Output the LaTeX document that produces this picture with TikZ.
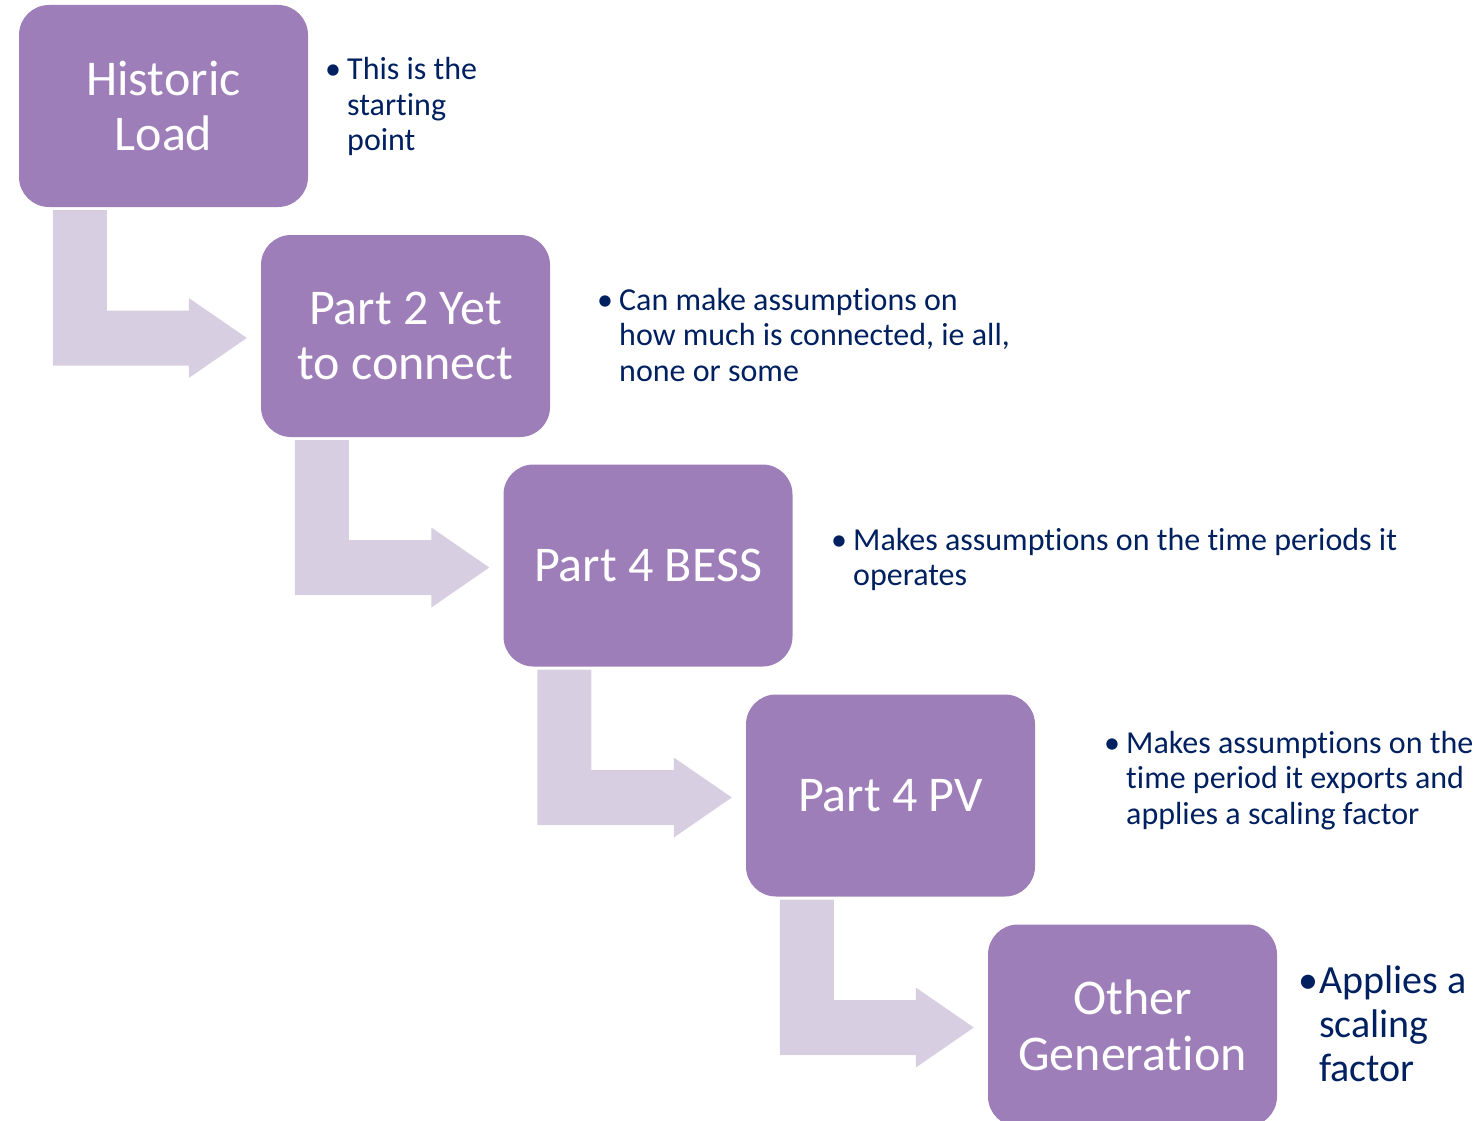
\documentclass[tikz,border=0pt]{standalone}
\usepackage{fontspec}
\setmainfont{Carlito}[Ligatures=NoCommon]
\usetikzlibrary{calc}
\definecolor{stagepurple}{RGB}{158,126,185}
\definecolor{arrowlilac}{RGB}{215,206,225}
\definecolor{notenavy}{RGB}{0,32,96}
% bent arrow from below one stage to the left of the next
\newcommand{\bentarrow}[2]{%
\fill[arrowlilac] let \p1=($(#1.south west)+(34,3)$), \p2=($(#2.west)+(-14,2)$) in
 (\x1,\y1)--(\x1+54pt,\y1)--(\x1+54pt,\y2+27.5pt)--(\x2-58pt,\y2+27.5pt)--(\x2-58pt,\y2+40pt)
 --(\x2,\y2)--(\x2-58pt,\y2-40pt)--(\x2-58pt,\y2-27.5pt)--(\x1,\y2-27.5pt)--cycle;}
\newcommand{\pont}{\makebox[22pt][l]{\textbullet}}

\begin{document}
\begin{tikzpicture}[x=1pt,y=-1pt,
stage/.style={rectangle,rounded corners=30pt,fill=stagepurple,text=white,align=center,
 minimum width=289pt,minimum height=202pt,inner sep=0pt,font=\fontsize{50}{55.5}\selectfont},
note/.style={inner sep=0pt,anchor=base west,text=notenavy,font=\fontsize{32}{35.5}\selectfont}]
\useasboundingbox (0,0) rectangle (1483,1121);
\node[stage](historic) at (163.5,106){Historic\\Load};
\node[stage](yet) at (405.5,336){Part 2 Yet\\to connect};
\node[stage](bess) at (648,565.5){Part 4 BESS};
\node[stage](pv) at (890.5,795.5){Part 4 PV};
\node[stage](other) at (1132.5,1025.5){Other\\Generation};
\bentarrow{historic}{yet}
\bentarrow{yet}{bess}
\bentarrow{bess}{pv}
\bentarrow{pv}{other}
\node[note](historic-note) at (325,80){\begin{tabular}[t]{@{}l@{}l@{}}
 \pont&This is the\\&starting\\&point\end{tabular}};
\node[note](yet-note) at (597,310){\begin{tabular}[t]{@{}l@{}l@{}}
 \pont&Can make assumptions on\\&how much is connected, ie all,\\&none or some\end{tabular}};
\node[note](bess-note) at (831,550){\begin{tabular}[t]{@{}l@{}l@{}}
 \pont&Makes assumptions on the time periods it\\&operates\end{tabular}};
\node[note](pv-note) at (1104,753){\begin{tabular}[t]{@{}l@{}l@{}}
 \pont&Makes assumptions on the\\&time period it exports and\\&applies a scaling factor\end{tabular}};
\node[note,font=\fontsize{40}{44}\selectfont](other-note) at (1298,993){\begin{tabular}[t]{@{}l@{}l@{}}
 \makebox[21pt][l]{\textbullet}&Applies a\\&scaling\\&factor\end{tabular}};
\end{tikzpicture}
\end{document}
